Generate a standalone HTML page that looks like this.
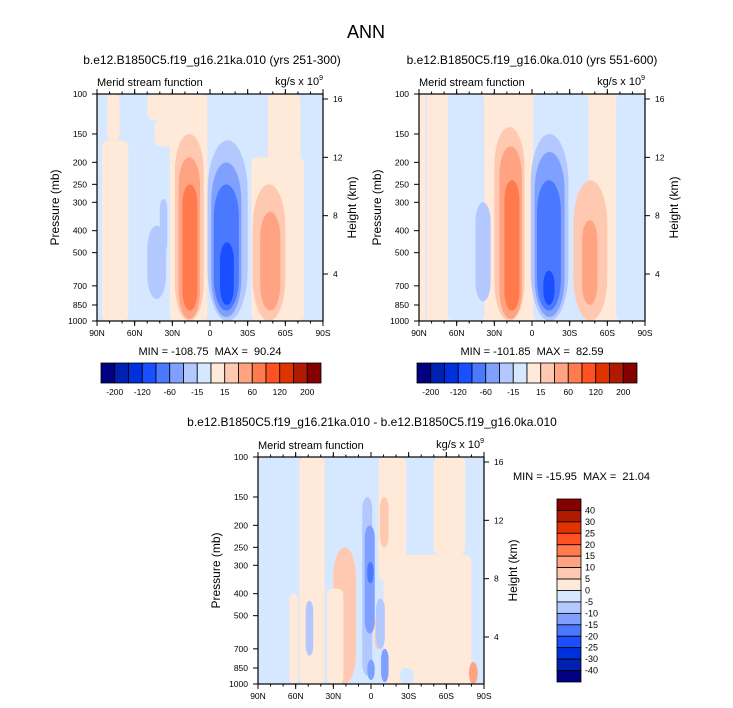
<!DOCTYPE html>
<html><head><meta charset="utf-8">
<style>
body{margin:0;background:#fff;}
svg{display:block;font-family:"Liberation Sans",sans-serif;}
text{white-space:pre;}
</style></head>
<body>
<svg id="chart" width="733" height="708" xmlns="http://www.w3.org/2000/svg">
<text x="366" y="38" font-size="18" text-anchor="middle">ANN</text>
</svg>
<script>
const colors = ["#000080","#0020b0","#0030dd","#1a4fff","#4a78ff","#80a0ff","#b2c8ff","#d6e8ff","#ffe9d9","#ffc9b1","#ffa382","#ff7a4c","#ff5122","#e03300","#b01a00","#850000"];
const topLabels = ["-200","-120","-60","-15","15","60","120","200"];
const diffLabels = ["40","30","25","20","15","10","5","0","-5","-10","-15","-20","-25","-30","-40"];
const pTicks = [100,150,200,250,300,400,500,700,850,1000];
const hTicks = [4,8,12,16];
const latTicks = [90,60,30,0,-30,-60,-90];
const latNames = ["90N","60N","30N","0","30S","60S","90S"];
// blobs: [latNorth, latSouth, pTop, pBottom, colorIndex]
const bgLeft = 7;
const blobsLeft = [
 [86,65,160,1000,8],[82,72,100,160,8],[50,4,100,130,8],[44,2,130,170,8],[32,2,100,1000,8],
 [-46,-72,100,1000,8],[-33,-75,190,1000,8],[-78,-82,620,1000,7],
 [50,35,380,800,6],[40,34,290,500,6],
 [28,5,150,1000,9],[25,8,190,980,10],[22,10,250,900,11],
 [2,-30,160,1000,6],[-1,-25,200,960,5],[-3,-23,250,900,4],[-8,-19,450,850,3],
 [-34,-60,250,1000,9],[-40,-56,330,900,10]
];
const bgRight = 8;
const blobsRight = [
 [67,38,100,1000,7],[85,84,100,1000,7],[-1,-45,100,1000,7],[-67,-90,100,1000,7],[-72,-90,650,1000,7],
 [45,33,300,820,6],
 [30,6,140,1000,9],[26,8,170,980,10],[22,10,240,900,11],
 [1,-29,150,1000,6],[-2,-26,180,960,5],[-4,-23,240,900,4],[-9,-18,600,850,3],
 [-33,-60,240,1000,9],[-40,-52,360,850,10]
];
const bgDiff = 7;
const blobsDiff = [
 [57,37,100,1000,8],[65,58,400,1000,8],[-6,-28,100,350,8],[-10,-80,270,1000,8],[-50,-75,100,270,8],
 [30,12,250,1000,9],[35,22,380,1000,8],[-7,-14,150,250,9],[-3,-8,500,700,9],[-78,-85,800,1000,10],
 [7,-1,150,920,6],[5,-3,200,600,5],[3,-2,290,360,4],[-4,-11,420,700,6],[-8,-14,700,980,5],[3,-3,780,960,5],[52,46,430,750,6],[-23,-34,850,1000,7]
];
const NS = "http://www.w3.org/2000/svg";
const svg = document.getElementById("chart");
function el(tag, attrs, parent){const e=document.createElementNS(NS,tag);for(const k in attrs)e.setAttribute(k,attrs[k]);(parent||svg).appendChild(e);return e;}
function txt(x,y,s,size,anchor,parent){const t=el("text",{x:x,y:y,"font-size":size,"text-anchor":anchor||"middle"},parent);t.textContent=s;return t;}

function panel(id,x0,y0,bg,blobs,subtitle,subX,subY){
  const W=226,H=227;
  const xLat=lat=>x0+(90-lat)/180*W;
  const yP=p=>y0+Math.log10(p/100)*H;
  const g=el("g",{});
  
  
  const cid="clip-"+id;
  const cp=el("clipPath",{id:cid},g);el("rect",{x:x0,y:y0,width:W,height:H},cp);
  const plot=el("g",{"clip-path":"url(#"+cid+")"},g);
  
  
  el("rect",{x:x0,y:y0,width:W,height:H,fill:colors[bg]},plot);
  blobs.forEach(b=>{
    const x1=xLat(b[0]),x2=xLat(b[1]),y1=yP(b[2]),y2=yP(b[3]);
    const w=x2-x1,h=y2-y1;
    const cell=(b[4]!==7&&b[4]!==8);
    const rx=cell?w/2:Math.min(6,w/2), ry=cell?Math.min(w*1.3,h/2):Math.min(6,h/2);
    const e=el("rect",{x:x1,y:y1,width:w,height:h,rx:rx,ry:ry,fill:colors[b[4]]},plot);
    
    
  });
  const frame=el("rect",{x:x0,y:y0,width:W,height:H,fill:"none",stroke:"#000","stroke-width":1.2},g);
  
  
  latTicks.forEach((l,i)=>{
    const x=xLat(l);
    el("line",{x1:x,y1:y0+H,x2:x,y2:y0+H+5,stroke:"#000"},g);
    el("line",{x1:x,y1:y0,x2:x,y2:y0-5,stroke:"#000"},g);
    const t=txt(x,y0+H+15,latNames[i],8.5,"middle",g);
    
    
  });
  for(let l=80;l>-90;l-=10){const x=xLat(l);el("line",{x1:x,y1:y0+H,x2:x,y2:y0+H+2.5,stroke:"#000"},g);el("line",{x1:x,y1:y0,x2:x,y2:y0-2.5,stroke:"#000"},g);}
  pTicks.forEach(p=>{
    const y=yP(p);
    el("line",{x1:x0-5,y1:y,x2:x0,y2:y,stroke:"#000"},g);
    const t=txt(x0-10,y+3,String(p),8.5,"end",g);
    
    
  });
  hTicks.forEach(h=>{
    const yy=y0+5+(16-h)/12*(175);
    el("line",{x1:x0+W,y1:yy,x2:x0+W+5,y2:yy,stroke:"#000"},g);
    const t=txt(x0+W+10,yy+3,String(h),8.5,"start",g);
    
    
  });
  const yt=txt(0,0,"Pressure (mb)",12,"middle",g);
  yt.setAttribute("transform","translate("+(x0-38)+","+(y0+H/2)+") rotate(-90)");
  
  
  const ht=txt(0,0,"Height (km)",12,"middle",g);
  ht.setAttribute("transform","translate("+(x0+W+33)+","+(y0+H/2)+") rotate(-90)");
  
  
  const lt=txt(x0,y0-8,"Merid stream function",11,"start",g);
  
  
  const ut=el("text",{x:x0+W,y:y0-9,"font-size":11,"text-anchor":"end"},g);
  ut.innerHTML='kg/s x 10<tspan dy="-5" font-size="7">9</tspan>';
  
  
  const st=txt(subX,subY,subtitle,12,"middle",g);
  
  
  return g;
}
panel("left",97,94,bgLeft,blobsLeft,"b.e12.B1850C5.f19_g16.21ka.010 (yrs 251-300)",212,64);
panel("right",419,94,bgRight,blobsRight,"b.e12.B1850C5.f19_g16.0ka.010 (yrs 551-600)",532,64);
panel("diff",258,457,bgDiff,blobsDiff,"b.e12.B1850C5.f19_g16.21ka.010 - b.e12.B1850C5.f19_g16.0ka.010",372,426);

function stat(x,y,s,anchor){const t=txt(x,y,s,11,anchor||"middle");}
stat(210,355,"MIN = -108.75  MAX =  90.24");
stat(532,355,"MIN = -101.85  MAX =  82.59");
stat(513,480,"MIN = -15.95  MAX =  21.04","start");

function hbar(x0,y0,name){
  const W=220,Hh=20,bw=W/16;
  const g=el("g",{});
  
  
  colors.forEach((c,i)=>{el("rect",{x:x0+i*bw,y:y0,width:bw,height:Hh,fill:c,stroke:"#000","stroke-width":0.8},g);});
  topLabels.forEach((s,i)=>{const t=txt(x0+(2*i+1)*bw,y0+Hh+12,s,8.5,"middle",g);});
}
hbar(101,363,"left-colorbar");
hbar(417,363,"right-colorbar");
(function(){
  const x0=557,y0=499,W=24,Ht=183,bh=Ht/16;
  const g=el("g",{});
  
  
  for(let i=0;i<16;i++){el("rect",{x:x0,y:y0+i*bh,width:W,height:bh,fill:colors[15-i],stroke:"#000","stroke-width":0.8},g);}
  diffLabels.forEach((s,i)=>{const t=txt(x0+W+4,y0+(i+1)*bh+3,s,9,"start",g);});
})();
</script>
</body></html>
